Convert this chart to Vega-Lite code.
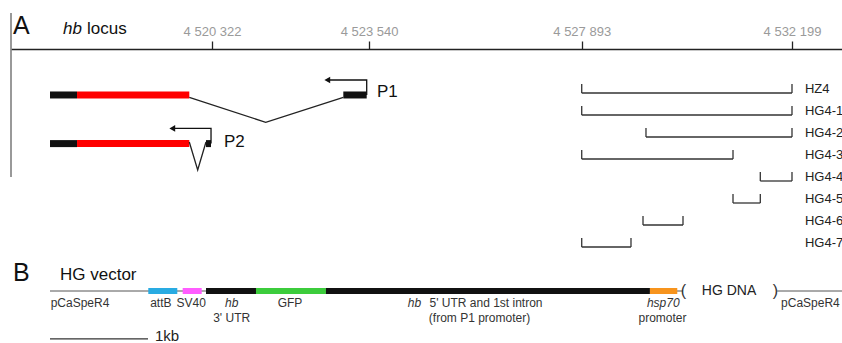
{
  "$schema": "https://vega.github.io/schema/vega-lite/v6.json",
  "width": 831,
  "height": 294,
  "autosize": "none",
  "padding": {"left": 11, "top": 49, "right": 0, "bottom": 0},
  "background": "white",
  "config": {"view": {"stroke": null}, "font": "Liberation Sans", "text": {"font": "Liberation Sans"}},
  "datasets": {
    "leftLine": [{"bp": 4516206, "lane": -3.64, "lane2": 3.82}],
    "exons": [
      {"tx": "P1", "part": "UTR", "bp": 4517005, "bp2": 4517558, "lane": 0.09},
      {"tx": "P1", "part": "CDS", "bp": 4517558, "bp2": 4519857, "lane": 0.09},
      {"tx": "P1", "part": "UTR", "bp": 4523011, "bp2": 4523490, "lane": 0.09},
      {"tx": "P2", "part": "UTR", "bp": 4517005, "bp2": 4517558, "lane": 2.3},
      {"tx": "P2", "part": "CDS", "bp": 4517558, "bp2": 4519857, "lane": 2.3},
      {"tx": "P2", "part": "UTR", "bp": 4520199, "bp2": 4520302, "lane": 2.3}
    ],
    "introns": [
      {"tx": "P1", "step": 1, "bp": 4519857, "lane": 0.2},
      {"tx": "P1", "step": 2, "bp": 4521422, "lane": 1.33},
      {"tx": "P1", "step": 3, "bp": 4523011, "lane": 0.2},
      {"tx": "P2", "step": 1, "bp": 4519857, "lane": 2.23},
      {"tx": "P2", "step": 2, "bp": 4520029, "lane": 3.5},
      {"tx": "P2", "step": 3, "bp": 4520199, "lane": 2.23}
    ],
    "promoters": [
      {"tx": "P1", "step": 1, "bp": 4523490, "lane": 0.09},
      {"tx": "P1", "step": 2, "bp": 4523490, "lane": -0.59},
      {"tx": "P1", "step": 3, "bp": 4522683, "lane": -0.59},
      {"tx": "P2", "step": 1, "bp": 4520302, "lane": 2.3},
      {"tx": "P2", "step": 2, "bp": 4520302, "lane": 1.61},
      {"tx": "P2", "step": 3, "bp": 4519509, "lane": 1.61}
    ],
    "promoterLabels": [
      {"label": "P1", "bp": 4523701, "lane": -0.03},
      {"label": "P2", "bp": 4520568, "lane": 2.21}
    ],
    "clones": [
      {"name": "HZ4", "bp": 4527893, "bp2": 4532199, "lane": 0},
      {"name": "HG4-1", "bp": 4527893, "bp2": 4532199, "lane": 1},
      {"name": "HG4-2", "bp": 4529209, "bp2": 4532199, "lane": 2},
      {"name": "HG4-3", "bp": 4527893, "bp2": 4530991, "lane": 3},
      {"name": "HG4-4", "bp": 4531550, "bp2": 4532199, "lane": 4},
      {"name": "HG4-5", "bp": 4530991, "bp2": 4531550, "lane": 5},
      {"name": "HG4-6", "bp": 4529148, "bp2": 4529967, "lane": 6},
      {"name": "HG4-7", "bp": 4527893, "bp2": 4528902, "lane": 7}
    ],
    "titleA": [{"label": "A", "bp": 4516247, "lane": -3.05}],
    "locusItalic": [{"label": "hb", "bp": 4517271, "lane": -2.91}],
    "locusPlain": [{"label": "locus", "bp": 4517762, "lane": -2.91}],
    "backbone": [
      {"kb": 0, "kb2": 6.46, "lane": 9},
      {"kb": 7.42, "kb2": 8.09, "lane": 9}
    ],
    "elements": [
      {"part": "attB", "kb": 1.003, "kb2": 1.299, "lane": 9},
      {"part": "SV40", "kb": 1.354, "kb2": 1.548, "lane": 9},
      {"part": "hb 3' UTR", "kb": 1.592, "kb2": 2.102, "lane": 9},
      {"part": "GFP", "kb": 2.102, "kb2": 2.816, "lane": 9},
      {"part": "hb 5' UTR and 1st intron", "kb": 2.816, "kb2": 6.122, "lane": 9},
      {"part": "hsp70 promoter", "kb": 6.122, "kb2": 6.401, "lane": 9}
    ],
    "brackets": [
      {"label": "(", "kb": 6.464, "lane": 9},
      {"label": ")", "kb": 7.403, "lane": 9}
    ],
    "hgdna": [{"label": "HG DNA", "kb": 6.929, "lane": 9}],
    "plainLabels": [
      {"label": "pCaSpeR4", "kb": 0.306, "lane": 9.56},
      {"label": "attB", "kb": 1.131, "lane": 9.56},
      {"label": "SV40", "kb": 1.441, "lane": 9.56},
      {"label": "GFP", "kb": 2.449, "lane": 9.56},
      {"label": "5' UTR and 1st intron", "kb": 4.449, "lane": 9.56},
      {"label": "pCaSpeR4", "kb": 7.76, "lane": 9.56},
      {"label": "3' UTR", "kb": 1.854, "lane": 10.24},
      {"label": "(from P1 promoter)", "kb": 4.383, "lane": 10.24},
      {"label": "promoter", "kb": 6.25, "lane": 10.24}
    ],
    "italicLabels": [
      {"label": "hb", "kb": 1.854, "lane": 9.56},
      {"label": "hb", "kb": 3.72, "lane": 9.56},
      {"label": "hsp70", "kb": 6.258, "lane": 9.56}
    ],
    "titleB": [{"label": "B", "kb": -0.378, "lane": 8.18}],
    "vectorName": [{"label": "HG vector", "kb": 0.102, "lane": 8.27}],
    "scaleBar": [{"kb": 0, "kb2": 1, "lane": 11.18}],
    "scaleLabel": [{"label": "1kb", "kb": 1.071, "lane": 11.03}]
  },
  "encoding": {
    "y": {"field": "lane", "type": "quantitative", "scale": {"domain": [-2, 11.3636], "reverse": true, "nice": false, "zero": false}, "axis": null}
  },
  "resolve": {"scale": {"x": "independent", "color": "independent"}},
  "layer": [
    {
      "data": {"name": "leftLine"},
      "mark": {"type": "rule", "color": "#777777", "strokeWidth": 1.5},
      "encoding": {
        "x": {"field": "bp", "type": "quantitative", "scale": {"domain": [4516206, 4533223], "nice": false, "zero": false},
          "axis": {"orient": "top", "values": [4520322, 4523540, 4527893, 4532199], "title": null, "grid": false,
            "labelExpr": "replace(replace(format(datum.value, ','), ',', ' '), ',', ' ')",
            "tickSize": 8, "tickWidth": 1.3, "tickColor": "#222222", "domainColor": "#222222", "domainWidth": 1.3,
            "labelColor": "#9a9a9a", "labelFontSize": 13, "labelFont": "Liberation Sans", "labelPadding": 3,
            "labelFlush": false, "labelOverlap": false}},
        "y2": {"field": "lane2"}
      }
    },
    {
      "data": {"name": "exons"},
      "mark": {"type": "rule", "strokeWidth": 7, "strokeCap": "butt"},
      "encoding": {
        "x": {"field": "bp", "type": "quantitative", "scale": {"domain": [4516206, 4533223], "nice": false, "zero": false}, "axis": null},
        "x2": {"field": "bp2"},
        "color": {"field": "part", "type": "nominal", "scale": {"domain": ["UTR", "CDS"], "range": ["#111111", "#ff0000"]}, "legend": null}
      }
    },
    {
      "data": {"name": "introns"},
      "mark": {"type": "line", "color": "#222222", "strokeWidth": 1.3},
      "encoding": {
        "x": {"field": "bp", "type": "quantitative", "scale": {"domain": [4516206, 4533223], "nice": false, "zero": false}, "axis": null},
        "detail": {"field": "tx"},
        "order": {"field": "step", "type": "quantitative"}
      }
    },
    {
      "data": {"name": "promoters"},
      "mark": {"type": "line", "color": "#111111", "strokeWidth": 1.3},
      "encoding": {
        "x": {"field": "bp", "type": "quantitative", "scale": {"domain": [4516206, 4533223], "nice": false, "zero": false}, "axis": null},
        "detail": {"field": "tx"},
        "order": {"field": "step", "type": "quantitative"}
      }
    },
    {
      "data": {"name": "promoters"},
      "transform": [{"filter": "datum.step == 3"}],
      "mark": {"type": "point", "shape": "triangle-left", "filled": true, "color": "#111111", "size": 45, "opacity": 1},
      "encoding": {
        "x": {"field": "bp", "type": "quantitative", "scale": {"domain": [4516206, 4533223], "nice": false, "zero": false}, "axis": null}
      }
    },
    {
      "data": {"name": "promoterLabels"},
      "mark": {"type": "text", "align": "left", "baseline": "middle", "fontSize": 17, "color": "#111111"},
      "encoding": {
        "x": {"field": "bp", "type": "quantitative", "scale": {"domain": [4516206, 4533223], "nice": false, "zero": false}, "axis": null},
        "text": {"field": "label"}
      }
    },
    {
      "data": {"name": "clones"},
      "mark": {"type": "rule", "color": "#333333", "strokeWidth": 1.3},
      "encoding": {
        "x": {"field": "bp", "type": "quantitative", "scale": {"domain": [4516206, 4533223], "nice": false, "zero": false}, "axis": null},
        "x2": {"field": "bp2"}
      }
    },
    {
      "data": {"name": "clones"},
      "mark": {"type": "tick", "orient": "vertical", "color": "#333333", "size": 9, "thickness": 1.3, "yOffset": -4.5, "opacity": 1},
      "encoding": {
        "x": {"field": "bp", "type": "quantitative", "scale": {"domain": [4516206, 4533223], "nice": false, "zero": false}, "axis": null}
      }
    },
    {
      "data": {"name": "clones"},
      "mark": {"type": "tick", "orient": "vertical", "color": "#333333", "size": 9, "thickness": 1.3, "yOffset": -4.5, "opacity": 1},
      "encoding": {
        "x": {"field": "bp2", "type": "quantitative", "scale": {"domain": [4516206, 4533223], "nice": false, "zero": false}, "axis": null}
      }
    },
    {
      "data": {"name": "clones"},
      "mark": {"type": "text", "align": "left", "baseline": "middle", "fontSize": 13, "color": "#222222", "dy": -4},
      "encoding": {
        "x": {"datum": 4532465, "type": "quantitative", "scale": {"domain": [4516206, 4533223], "nice": false, "zero": false}, "axis": null},
        "text": {"field": "name"}
      }
    },
    {
      "data": {"name": "titleA"},
      "mark": {"type": "text", "align": "left", "baseline": "middle", "fontSize": 25, "color": "#111111"},
      "encoding": {
        "x": {"field": "bp", "type": "quantitative", "scale": {"domain": [4516206, 4533223], "nice": false, "zero": false}, "axis": null},
        "text": {"field": "label"}
      }
    },
    {
      "data": {"name": "locusItalic"},
      "mark": {"type": "text", "align": "left", "baseline": "middle", "fontSize": 17, "fontStyle": "italic", "color": "#111111"},
      "encoding": {
        "x": {"field": "bp", "type": "quantitative", "scale": {"domain": [4516206, 4533223], "nice": false, "zero": false}, "axis": null},
        "text": {"field": "label"}
      }
    },
    {
      "data": {"name": "locusPlain"},
      "mark": {"type": "text", "align": "left", "baseline": "middle", "fontSize": 17, "color": "#111111"},
      "encoding": {
        "x": {"field": "bp", "type": "quantitative", "scale": {"domain": [4516206, 4533223], "nice": false, "zero": false}, "axis": null},
        "text": {"field": "label"}
      }
    },
    {
      "data": {"name": "backbone"},
      "mark": {"type": "rule", "color": "#555555", "strokeWidth": 1},
      "encoding": {
        "x": {"field": "kb", "type": "quantitative", "scale": {"domain": [-0.398, 8.082], "nice": false, "zero": false}, "axis": null},
        "x2": {"field": "kb2"}
      }
    },
    {
      "data": {"name": "elements"},
      "mark": {"type": "rule", "strokeWidth": 6, "strokeCap": "butt"},
      "encoding": {
        "x": {"field": "kb", "type": "quantitative", "scale": {"domain": [-0.398, 8.082], "nice": false, "zero": false}, "axis": null},
        "x2": {"field": "kb2"},
        "color": {"field": "part", "type": "nominal",
          "scale": {"domain": ["attB", "SV40", "hb 3' UTR", "GFP", "hb 5' UTR and 1st intron", "hsp70 promoter"],
            "range": ["#29abe2", "#ff5cff", "#111111", "#3ccc3c", "#111111", "#f7941d"]}, "legend": null}
      }
    },
    {
      "data": {"name": "brackets"},
      "mark": {"type": "text", "align": "center", "baseline": "middle", "fontSize": 16, "color": "#333333"},
      "encoding": {
        "x": {"field": "kb", "type": "quantitative", "scale": {"domain": [-0.398, 8.082], "nice": false, "zero": false}, "axis": null},
        "text": {"field": "label"}
      }
    },
    {
      "data": {"name": "hgdna"},
      "mark": {"type": "text", "align": "center", "baseline": "middle", "fontSize": 14, "color": "#222222"},
      "encoding": {
        "x": {"field": "kb", "type": "quantitative", "scale": {"domain": [-0.398, 8.082], "nice": false, "zero": false}, "axis": null},
        "text": {"field": "label"}
      }
    },
    {
      "data": {"name": "plainLabels"},
      "mark": {"type": "text", "align": "center", "baseline": "middle", "fontSize": 12, "color": "#333333"},
      "encoding": {
        "x": {"field": "kb", "type": "quantitative", "scale": {"domain": [-0.398, 8.082], "nice": false, "zero": false}, "axis": null},
        "text": {"field": "label"}
      }
    },
    {
      "data": {"name": "italicLabels"},
      "mark": {"type": "text", "align": "center", "baseline": "middle", "fontSize": 12, "fontStyle": "italic", "color": "#333333"},
      "encoding": {
        "x": {"field": "kb", "type": "quantitative", "scale": {"domain": [-0.398, 8.082], "nice": false, "zero": false}, "axis": null},
        "text": {"field": "label"}
      }
    },
    {
      "data": {"name": "titleB"},
      "mark": {"type": "text", "align": "left", "baseline": "middle", "fontSize": 25, "color": "#111111"},
      "encoding": {
        "x": {"field": "kb", "type": "quantitative", "scale": {"domain": [-0.398, 8.082], "nice": false, "zero": false}, "axis": null},
        "text": {"field": "label"}
      }
    },
    {
      "data": {"name": "vectorName"},
      "mark": {"type": "text", "align": "left", "baseline": "middle", "fontSize": 17, "color": "#111111"},
      "encoding": {
        "x": {"field": "kb", "type": "quantitative", "scale": {"domain": [-0.398, 8.082], "nice": false, "zero": false}, "axis": null},
        "text": {"field": "label"}
      }
    },
    {
      "data": {"name": "scaleBar"},
      "mark": {"type": "rule", "color": "#333333", "strokeWidth": 1.2},
      "encoding": {
        "x": {"field": "kb", "type": "quantitative", "scale": {"domain": [-0.398, 8.082], "nice": false, "zero": false}, "axis": null},
        "x2": {"field": "kb2"}
      }
    },
    {
      "data": {"name": "scaleLabel"},
      "mark": {"type": "text", "align": "left", "baseline": "middle", "fontSize": 15, "color": "#222222"},
      "encoding": {
        "x": {"field": "kb", "type": "quantitative", "scale": {"domain": [-0.398, 8.082], "nice": false, "zero": false}, "axis": null},
        "text": {"field": "label"}
      }
    }
  ]
}
